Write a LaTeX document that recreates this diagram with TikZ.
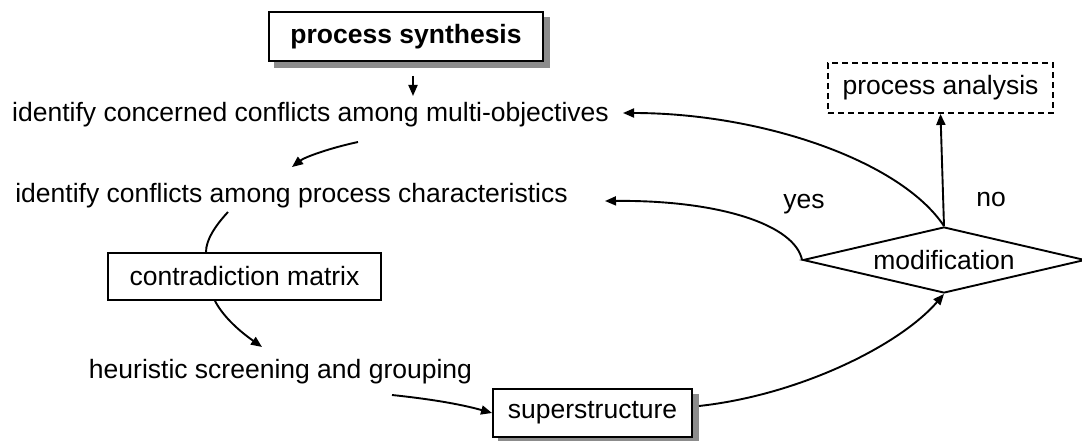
\documentclass[tikz,border=0pt]{standalone}
\usepackage{fontspec}
\setmainfont{Liberation Sans}
\usetikzlibrary{arrows.meta,shapes.geometric,backgrounds}
\begin{document}
\begin{tikzpicture}[x=1pt,y=-1pt,
  every node/.style={font=\fontsize{26.5}{32}\selectfont},
  line/.style={line width=1.9pt},
  arr/.style={line, -{Triangle[length=11pt,width=9pt]}},
  box/.style={draw, fill=white, line width=1.9pt, rectangle, inner sep=0pt},
  shade/.style={fill=black!45},
  plain/.style={inner sep=0pt, anchor=base}
]
\useasboundingbox (0,0) rectangle (1082,441);

% boxes
\node[box, minimum width=274pt, minimum height=49pt,
      font=\fontsize{26.5}{32}\selectfont\bfseries] (synth) at (406,36.5) {process synthesis};
\node[box, minimum width=273pt, minimum height=47pt] (matrix) at (244.5,276.5) {contradiction matrix};
\node[box, minimum width=199pt, minimum height=48pt] (super) at (592.5,413) {superstructure};
\node[box, dashed, dash pattern=on 6pt off 4pt, minimum width=225pt, minimum height=50pt] (analysis) at (940.5,88) {process analysis};
\node[draw, fill=white, line width=1.9pt, diamond, inner sep=0pt, aspect=4.2,
      minimum width=282pt, minimum height=66pt] (modif) at (944,260) {modification};

% drop shadows behind the two framed boxes
\begin{scope}[on background layer]
  \fill[shade] ([shift={(6,6)}]synth.north west) rectangle ([shift={(6,6)}]synth.south east);
  \fill[shade] ([shift={(6,6)}]super.north west) rectangle ([shift={(6,6)}]super.south east);
\end{scope}

% plain text steps
\node[plain] (multi) at (310.5,122) {identify concerned conflicts among multi-objectives};
\node[plain] (charac) at (291.5,202) {identify conflicts among process characteristics};
\node[plain] (heur) at (280.5,378) {heuristic screening and grouping};

% branch labels
\node[plain] (yes) at (804,208) {yes};
\node[plain] (no) at (991,206) {no};

% free ends of connectors
\coordinate (s1a) at (413,76);
\coordinate (s1b) at (413,96);
\coordinate (m1) at (358,142);
\coordinate (c1) at (292,167);
\coordinate (c2) at (228,212);
\coordinate (h1) at (262,347);
\coordinate (h2) at (392,395);
\coordinate (mtip) at (623,113);
\coordinate (ctip) at (605,201);

% connectors
\draw[arr] (s1a) -- (s1b);
\draw[arr] (m1) .. controls (330,148) and (305,157) .. (c1);
\draw[line] (c2) .. controls (215,226) and (206,240) .. (matrix.north west -| 206,0);
\draw[arr] (matrix.south west -| 215,0) .. controls (225,320) and (245,335) .. (h1);
\draw[arr] (h2) .. controls (430,399) and (460,404) .. (super.west);
\draw[arr] (super.east) ++(6,-7) .. controls (800,395) and (900,345) .. (modif.south);
\draw[arr] (modif.north) -- (analysis.south);
\draw[arr] (modif.north) .. controls (900,160) and (760,113) .. (mtip);
\draw[arr] (modif.west) .. controls (795,225) and (720,200) .. (ctip);
\end{tikzpicture}
\end{document}
